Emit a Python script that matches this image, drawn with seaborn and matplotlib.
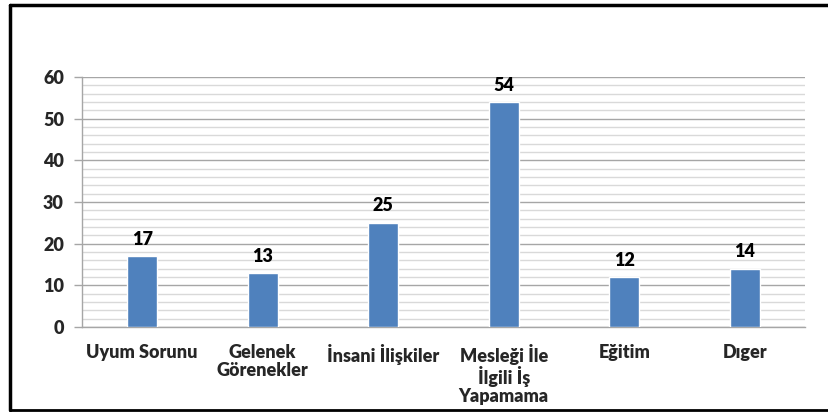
import matplotlib
matplotlib.use("Agg")
import matplotlib.pyplot as plt
import seaborn as sns
import pandas as pd
from matplotlib.ticker import MultipleLocator
from matplotlib.lines import Line2D

categories = ["Uyum Sorunu", "Gelenek\nGörenekler", "İnsani İlişkiler",
              "Mesleği İle\nİlgili İş\nYapamama", "Eğitim", "Dıger"]
values = [17, 13, 25, 54, 12, 14]
yticks = [0, 10, 20, 30, 40, 50, 60]

sns.set_theme(style="white")
plt.rcParams['font.family'] = ['Lato', 'DejaVu Sans']
plt.rcParams['font.weight'] = 'heavy'

W = 'heavy'
df = pd.DataFrame({"cat": categories, "val": values})

fig = plt.figure(figsize=(8.29, 4.12), dpi=100)
ax = fig.add_axes([82/829, 1-327/412, (805-82)/829, (327-77)/412])

sns.barplot(data=df, x="cat", y="val", color="#4F81BD", width=0.25, ax=ax,
            saturation=1, zorder=3)

ax.set_ylim(0, 60)
ax.set_xlim(-0.5, len(categories)-0.5)
ax.set_yticks(yticks)
ax.set_yticklabels([str(t) for t in yticks], fontsize=13, fontweight=W)
ax.set_xticks(range(len(categories)))
ax.set_xticklabels(categories, fontsize=13, fontweight=W, linespacing=1.08)
ax.yaxis.set_minor_locator(MultipleLocator(2))
ax.grid(axis='y', which='major', color='#A6A6A6', linewidth=1.0, zorder=0)
ax.grid(axis='y', which='minor', color='#D9D9D9', linewidth=1.0, zorder=0)
ax.set_axisbelow(True)
ax.set_xlabel("")
ax.set_ylabel("")

for s in ["top", "right"]:
    ax.spines[s].set_visible(False)
for s in ["left", "bottom"]:
    ax.spines[s].set_color("#A6A6A6")
    ax.spines[s].set_linewidth(1.0)

ax.tick_params(axis='y', which='major', left=True, length=6, width=1, color='#A6A6A6',
               pad=7)
ax.tick_params(axis='y', which='minor', left=False)
ax.tick_params(axis='x', bottom=False, pad=6)

for container in ax.containers:
    ax.bar_label(container, labels=[str(v) for v in values], padding=6,
                 fontsize=13, fontweight=W, color='black')

# outer frame (left, top, bottom)
fig.add_artist(Line2D([10/829, 10/829], [1-5/412, 1-410/412], color='black', lw=2.5,
                      transform=fig.transFigure))
fig.add_artist(Line2D([10/829, 1.0], [1-5/412, 1-5/412], color='black', lw=2.5,
                      transform=fig.transFigure))
fig.add_artist(Line2D([10/829, 1.0], [1-410/412, 1-410/412], color='black', lw=2.0,
                      transform=fig.transFigure))

fig.savefig("out.png", dpi=100)
